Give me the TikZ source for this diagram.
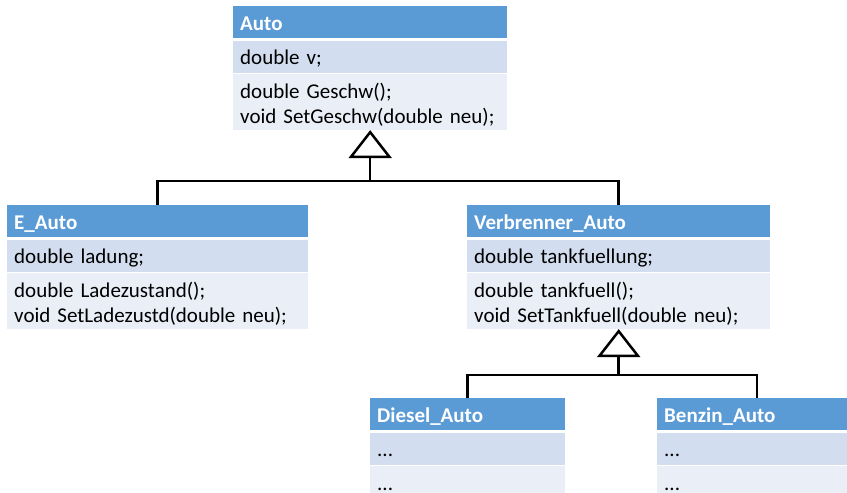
\documentclass[tikz,border=0pt]{standalone}
\usepackage{fontspec}
\setmainfont{Carlito}
\usetikzlibrary{positioning,arrows.meta}
\definecolor{kopfblau}{HTML}{5B9BD5}
\definecolor{attrblau}{HTML}{D2DEEF}
\definecolor{methblau}{HTML}{EAEFF7}
\newcommand\kfont{\fontsize{21}{25}\selectfont}
\newcommand\erst{\rule{0pt}{20pt}}

\begin{document}
\begin{tikzpicture}[x=1pt,y=-1pt,
  kopf/.style={fill=kopfblau,text=white,font=\kfont\bfseries,minimum height=32pt,text height=18pt,text depth=2pt,inner xsep=7pt,inner ysep=0pt,align=left,anchor=north west},
  attr/.style={fill=attrblau,font=\kfont,minimum height=32pt,text height=18pt,text depth=2pt,inner xsep=7pt,inner ysep=0pt,align=left},
  meth/.style={fill=methblau,font=\kfont,inner xsep=7pt,inner ysep=4pt,align=left},
  linie/.style={line width=2.5pt},
  erbt/.style={linie,-{Triangle[open,length=28pt,width=43pt]}}]

\useasboundingbox (0,0) rectangle (847,493);

\node[kopf,text width=260pt] (auto) at (233,6) {Auto};
\node[attr,text width=260pt,below=2pt of auto.south west,anchor=north west] (autoA) {double v;};
\node[meth,text width=260pt,below=1pt of autoA.south west,anchor=north west] (autoM) {\erst double Geschw();\\void SetGeschw(double neu);};

\node[kopf,text width=287pt] (eauto) at (7,205) {E\_Auto};
\node[attr,text width=287pt,below=2pt of eauto.south west,anchor=north west] (eautoA) {double ladung;};
\node[meth,text width=287pt,below=1pt of eautoA.south west,anchor=north west] (eautoM) {\erst double Ladezustand();\\void SetLadezustd(double neu);};

\node[kopf,text width=289pt] (verb) at (467,205) {Verbrenner\_Auto};
\node[attr,text width=289pt,below=2pt of verb.south west,anchor=north west] (verbA) {double tankfuellung;};
\node[meth,text width=289pt,below=1pt of verbA.south west,anchor=north west] (verbM) {\erst double tankfuell();\\void SetTankfuell(double neu);};

\node[kopf,text width=181pt] (diesel) at (370,398) {Diesel\_Auto};
\node[attr,text width=181pt,below=2pt of diesel.south west,anchor=north west] (dieselA) {...};
\node[meth,text width=181pt,below=1pt of dieselA.south west,anchor=north west] (dieselM) {\erst ...};

\node[kopf,text width=186pt] (benzin) at (657,398) {Benzin\_Auto};
\node[attr,text width=186pt,below=2pt of benzin.south west,anchor=north west] (benzinA) {...};
\node[meth,text width=186pt,below=1pt of benzinA.south west,anchor=north west] (benzinM) {\erst ...};

\coordinate[below=51pt of autoM.south] (j1);
\draw[linie] (eauto.north) |- (j1) -| (verb.north);
\draw[erbt] (j1) -- (autoM.south);

\coordinate[below=46pt of verbM.south] (j2);
\draw[linie] (diesel.north) |- (j2) -| (benzin.north);
\draw[erbt] (j2) -- (verbM.south);
\end{tikzpicture}
\end{document}
